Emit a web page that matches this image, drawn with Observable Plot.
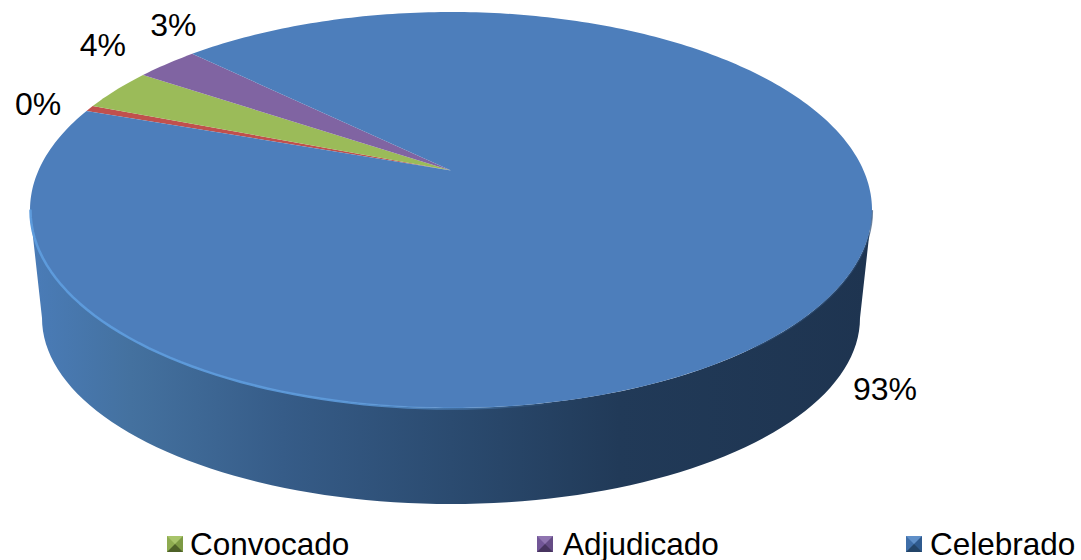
<!DOCTYPE html>
<html>
<head>
<meta charset="utf-8">
<script src="https://cdn.jsdelivr.net/npm/d3@7"></script>
<script src="https://cdn.jsdelivr.net/npm/@observablehq/plot@0.6"></script>
<style>
html,body{margin:0;padding:0;background:#fff;overflow:hidden}
#chart svg{display:block;background:#fff}
#legend{position:relative;width:1081px;height:40px;font-family:"Liberation Sans",Arial,sans-serif;font-size:31.5px;color:#000}
.item{position:absolute;line-height:32px;height:32px;white-space:nowrap}
.sw{position:absolute;top:16px;box-sizing:border-box;width:16px;height:16px;border-style:solid;border-width:8px}
</style>
</head>
<body>
<div id="chart"></div>
<div id="legend"></div>
<script>
// Data
const categories = ["Sin dato", "Convocado", "Adjudicado", "Celebrado"];
const shares = [0.5, 3.5, 2.9, 93.1];
const labels = ["0%", "4%", "3%", "93%"];
const colors = ["#c0504d", "#9bbb59", "#8064a2", "#4d7ebb"];
const legendCategories = ["Convocado", "Adjudicado", "Celebrado"];

// Layout
const W = 1081, H = 520;
const firstAngle = 289.5;            // clockwise from 12 o'clock
const top3d = {cx: 451, cy: 210, rx: 421, ry: 198, k: -0.2};
const base3d = {cx: 451, cy: 318, rx: 409, ry: 186};
const labelOffsets = [[-52, -4], [-14, -45], [6, -39], [42, 106]];
const legendText = [190, 563, 930];
const legendSwatch = [167, 537, 906];
const bevels = [
  ["#a8c46a", "#7d9a44", "#4e6128", "#8eab50"],
  ["#8f74b0", "#654c85", "#47345f", "#725697"],
  ["#5f8fc8", "#2f5a8e", "#234468", "#3f6ea8"]
];

// Tilted disc: a point at a clockwise angle goes through a perspective map of the unit circle
function project(deg, r = 1) {
  const a = deg * Math.PI / 180, u = r * Math.sin(a), v = -r * Math.cos(a), k = top3d.k;
  const d = 1 + k * v;
  return [top3d.cx + top3d.rx * u * Math.sqrt(1 - k * k) / d, top3d.cy + top3d.ry * (v + k) / d];
}
const apex = project(0, 0);
const total = d3.sum(shares);
const sliceRows = [], labelRows = [];
let start = firstAngle;
shares.forEach((s, i) => {
  const sweep = s / total * 360;
  const n = Math.max(2, Math.ceil(sweep));
  for (let j = 0; j <= n; ++j) {
    const [x, y] = project(start + sweep * j / n);
    sliceRows.push({category: categories[i], x1: apex[0], y1: apex[1], x2: x, y2: y});
  }
  const [mx, my] = project(start + sweep / 2);
  labelRows.push({label: labels[i], x: mx + labelOffsets[i][0], y: my + labelOffsets[i][1]});
  start += sweep;
});

// Side wall and rim, on the front half of the disc
const ellipse = (e, t) => [e.cx + e.rx * Math.cos(t * Math.PI / 180), e.cy + e.ry * Math.sin(t * Math.PI / 180)];
const frontAngles = d3.range(0, 181, 2);
const wallRows = frontAngles.map(t => {
  const [x1, y1] = ellipse(top3d, t), [x2, y2] = ellipse(base3d, t);
  return {x1, y1, x2, y2};
});
const rimRows = d3.range(70, 181, 2).map(t => {
  const [x, y] = ellipse(top3d, t);
  return {x, y};
});
const edgeRows = d3.range(0, 46, 2).map(t => {
  const [x, y] = ellipse(top3d, t);
  return {x, y};
});

const defs = () => {
  const d = d3.create("svg:defs");
  const wall = d.append("linearGradient").attr("id", "wallGrad").attr("gradientUnits", "userSpaceOnUse")
    .attr("x1", 30).attr("x2", 872).attr("y1", 0).attr("y2", 0);
  [[0, "#4a7cb8"], [0.12, "#44719f"], [0.3, "#365c88"], [0.5, "#2b4b70"], [0.7, "#213a58"], [1, "#1e3450"]]
    .forEach(([o, c]) => wall.append("stop").attr("offset", o).attr("stop-color", c));
  const rim = d.append("linearGradient").attr("id", "rimGrad").attr("gradientUnits", "userSpaceOnUse")
    .attr("x1", 30).attr("x2", 560).attr("y1", 0).attr("y2", 0);
  [[0, 1], [0.6, 0.9], [1, 0]].forEach(([o, a]) =>
    rim.append("stop").attr("offset", o).attr("stop-color", "#5d9bdc").attr("stop-opacity", a));
  return d.node();
};

const plot = Plot.plot({
  width: W, height: H,
  margin: 0,
  x: {domain: [0, W], range: [0, W], axis: null},
  y: {domain: [0, H], range: [0, H], axis: null},
  color: {domain: categories, range: colors},
  marks: [
    defs,
    Plot.area(wallRows, {x1: "x1", y1: "y1", x2: "x2", y2: "y2", fill: "url(#wallGrad)"}),
    Plot.area(sliceRows, {x1: "x1", y1: "y1", x2: "x2", y2: "y2", z: "category", fill: "category"}),
    Plot.line(rimRows, {x: "x", y: "y", stroke: "url(#rimGrad)", strokeWidth: 2.5}),
    Plot.line(edgeRows, {x: "x", y: "y", stroke: "#2c4f78", strokeWidth: 1.2, strokeOpacity: 0.7}),
    Plot.text(labelRows, {x: "x", y: "y", text: "label", fontSize: 32, fill: "#000",
      fontFamily: "Liberation Sans, Arial, sans-serif", textAnchor: "middle", lineAnchor: "middle"})
  ]
});
document.getElementById("chart").append(plot);

const legend = d3.select("#legend");
legendCategories.forEach((name, i) => {
  const b = bevels[i];
  legend.append("div").attr("class", "sw")
    .style("left", legendSwatch[i] + "px")
    .style("border-color", b.join(" "));
  legend.append("div").attr("class", "item")
    .style("left", legendText[i] + "px")
    .style("top", "8px")
    .text(name);
});
</script>
</body>
</html>
